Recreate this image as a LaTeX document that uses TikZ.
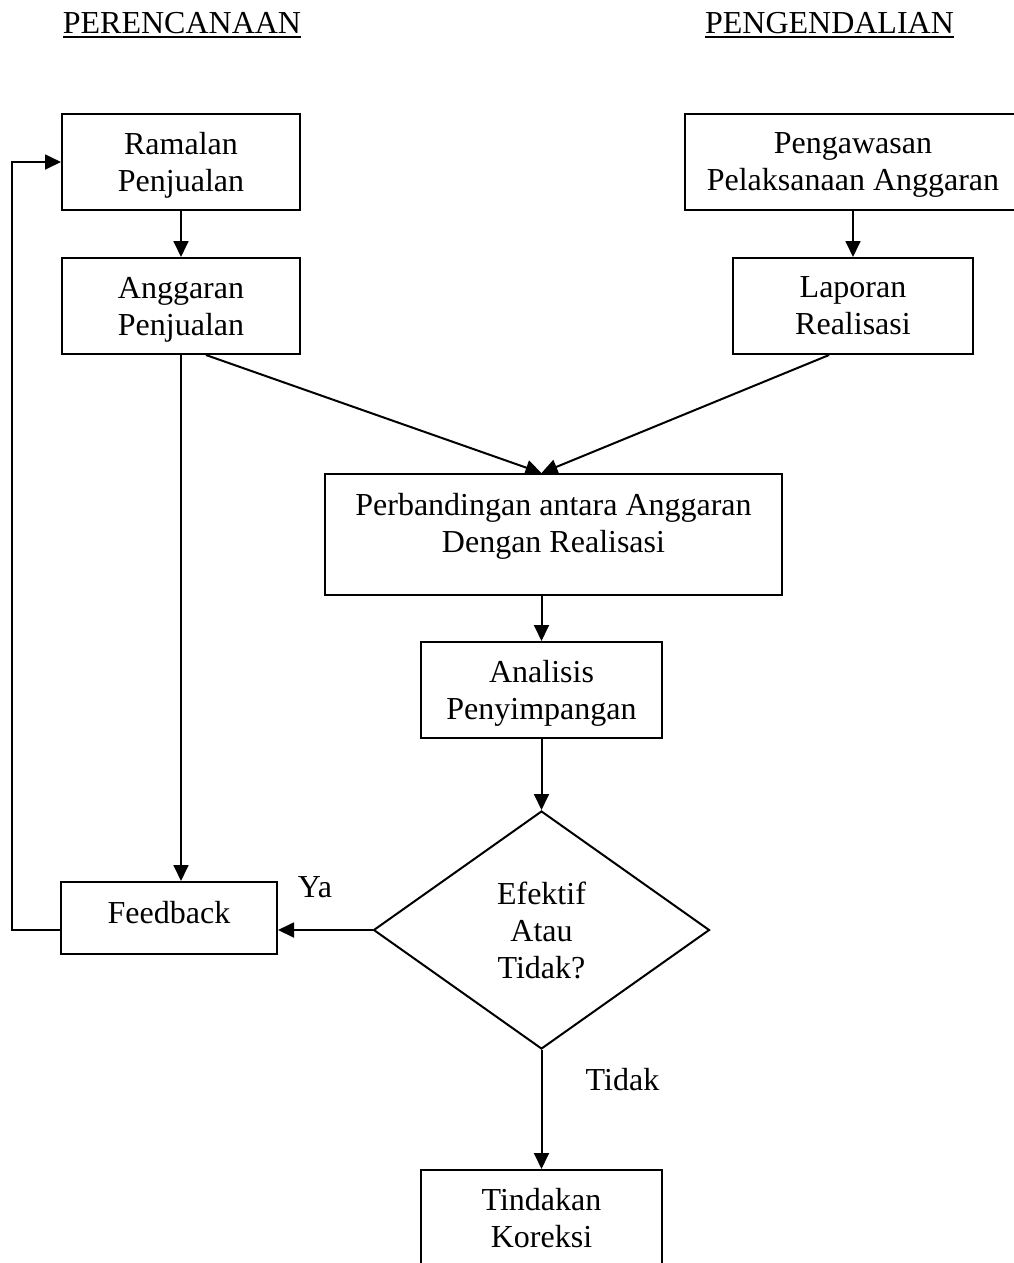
\documentclass[tikz,border=0pt]{standalone}
\usepackage{fontspec}
\setmainfont{Liberation Serif}
\usetikzlibrary{shapes.geometric,arrows.meta}
\newcommand{\garisbawah}[1]{\setbox0\hbox{#1}\rlap{\vrule height -1.3pt depth 2.05pt width \wd0}\box0}

\begin{document}
\begin{tikzpicture}[x=0.375pt,y=-0.375pt,line width=0.75pt,
	every node/.style={font=\fontsize{12pt}{13.875pt}\selectfont,align=center},
	kotak/.style={rectangle,draw=black,inner sep=0pt,text depth=0pt},
	panah/.style={-{Triangle[length=6pt,width=5.6pt]}}]

	\useasboundingbox (0,0) rectangle (1014,1263);

	\node[anchor=base] (perencanaan) at (182,33) {\garisbawah{PERENCANAAN}};
	\node[anchor=base] (pengendalian) at (829.5,33) {\garisbawah{PENGENDALIAN}};

	\node[kotak,minimum width=89.25pt,minimum height=36pt] (ramalan) at (181,162) {Ramalan\\Penjualan};
	\node[kotak,minimum width=89.25pt,minimum height=36pt] (anggaran) at (181,306) {Anggaran\\Penjualan};
	\node[kotak,minimum width=126pt,minimum height=36pt] (pengawasan) at (853,162) {Pengawasan\\Pelaksanaan Anggaran};
	\node[kotak,minimum width=90pt,minimum height=36pt] (laporan) at (853,306) {Laporan\\Realisasi};
	\node[kotak,minimum width=171.375pt,minimum height=45.375pt] (perbandingan) at (553.5,534.5) {};
	\node (teksperbandingan) at (553.5,526) {Perbandingan antara Anggaran\\Dengan Realisasi};
	\node[kotak,minimum width=90.375pt,minimum height=36pt] (analisis) at (541.5,690) {Analisis\\Penyimpangan};
	\node[diamond,draw=black,inner sep=0pt,minimum width=126pt,minimum height=89.25pt] (keputusan) at (541.5,930) {Efektif\\Atau\\Tidak?};
	\node[kotak,minimum width=81pt,minimum height=27pt,text depth=4.5pt] (feedback) at (169,918) {Feedback};
	\node[kotak,minimum width=90.375pt,minimum height=36pt] (tindakan) at (541.5,1218) {Tindakan\\Koreksi};

	\node[anchor=base] (ya) at (315,897) {Ya};
	\node[anchor=base] (tidak) at (622.5,1090) {Tidak};

	\draw[panah] (ramalan) -- (anggaran);
	\draw[panah] (pengawasan) -- (laporan);
	\draw[panah] (anggaran.-63) -- (analisis.north |- perbandingan.north);
	\draw[panah] (laporan.-116) -- (analisis.north |- perbandingan.north);
	\draw[panah] (analisis.north |- perbandingan.south) -- (analisis.north);
	\draw[panah] (analisis) -- (keputusan);
	\draw[panah] (keputusan) -- (tindakan);
	\draw[panah] (anggaran) -- (anggaran.south |- feedback.north);
	\draw[panah] (keputusan.west) -- (keputusan.west -| feedback.east);
	\draw[panah] (feedback.west |- keputusan.west) -- ++(-48,0) |- (ramalan.west);
\end{tikzpicture}
\end{document}
